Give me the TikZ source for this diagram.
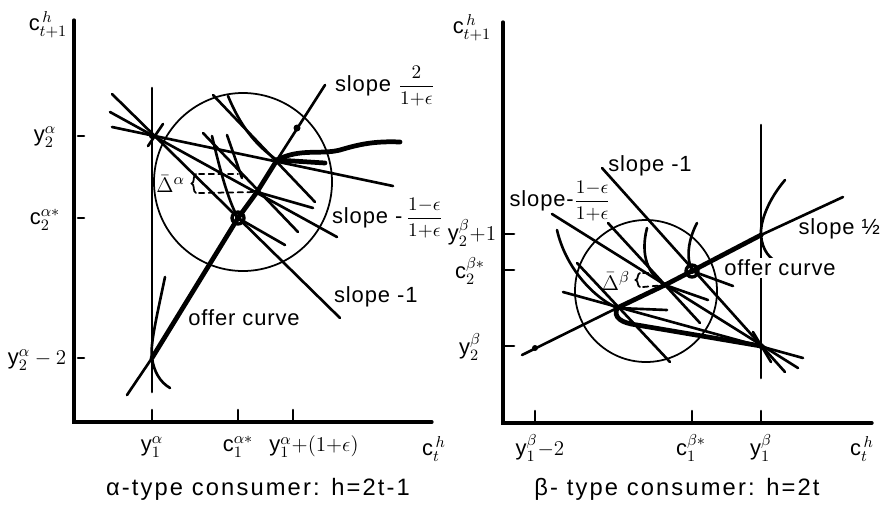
\documentclass[tikz,border=0pt]{standalone}
\usepackage{amsmath}
\usepackage{fontspec}
\setmainfont{Liberation Sans}[LetterSpace=4]
\usetikzlibrary{calc,decorations.pathreplacing}

\newcommand{\vy}{\mathrm{y}}
\newcommand{\vc}{\mathrm{c}}
\newcommand{\pente}[2]{{\fontsize{11}{12}\selectfont$\dfrac{#1}{#2}$}}

\begin{document}
\begin{tikzpicture}[x=0.02cm,y=-0.02cm,line cap=round,
    axe/.style={line width=1.9pt},
    trait/.style={line width=1.5pt},
    fin/.style={line width=1pt},
    offre/.style={line width=2.7pt},
    tiret/.style={line width=1pt,dash pattern=on 3pt off 2.5pt},
    accol/.style={fin,decorate,decoration={brace,amplitude=2.5pt}},
    etiq/.style={font=\fontsize{12.5}{14}\selectfont,inner sep=1pt},
    legende/.style={font=\fontsize{13.5}{16}\selectfont\addfontfeature{LetterSpace=9},inner sep=1pt}]
\useasboundingbox (0,0) rectangle (884,504);

% ---- consommateur alpha ----
\coordinate (Oa) at (74,422);
\coordinate (Ea) at (152,136);
\coordinate (Pa) at (238,218);
\coordinate (Da) at (257,192);
\coordinate (Ia) at (277,160);
\coordinate (Ba) at (152,358);

% Les axes
\draw[axe] (74,20) -- (Oa) -- (432,422);
\foreach \x in {152,238,293} \draw[trait] (\x,422) -- (\x,410);
\foreach \y in {136,218,358} \draw[trait] (78,\y) -- (84,\y);

% Le cercle
\draw[fin] (243,182) circle (89);
\draw[trait] (152,88) -- (152,392);

% Droites de budget
\draw[trait] (112,94) -- (340,318);
\draw[trait] (110,112) -- (337,237);
\draw[trait] (112,127) -- (393,186);
\draw[trait] (148,146) -- (163,124);
\draw[trait] (213,95) -- (315,202);
\draw[trait] (203,133) -- (298,232);
\draw[trait] (227,135) -- (242,178);
\draw[trait] (Pa) -- (285,245);
\draw[trait] (Da) -- (313,208);

% Courbes d'indifference
\draw[trait] (228,96) .. controls (240,125) and (255,145) .. (Ia);
\draw[trait] (212,136) .. controls (220,170) and (228,200) .. (Pa);
\draw[trait] (165,277) .. controls (156,320) and (150,345) .. (Ba)
    .. controls (154,372) and (160,382) .. (170,388);

% Courbe d'offre
\draw[trait] (127,395) -- (Ba);
\draw[offre] (Ba) -- (Pa) -- (Da) -- (Ia);
\draw[trait] (Ia) -- (325,85);
\draw[offre] (Ia) -- (325,163);
\draw[offre] (Ia) .. controls (300,148) and (320,155) .. (340,150)
    .. controls (360,144) and (375,141) .. (400,142);

% Points
\fill (297,128) circle (3.5);
\draw[axe] (Pa) circle (6);
\fill (Pa) circle (3) (Ea) circle (3) (Da) circle (2.5) (Ia) circle (2.5);

% Ecart Delta
\draw[tiret] (199,174) -- (238,174);
\draw[tiret] (199,193) -- (Da);
\draw[accol] (196,193) -- (196,174);
\node[etiq,anchor=east] (dla) at (187,184) {$\bar{\Delta}^{\alpha}$};

% Etiquettes
\node[etiq] (cha) at (48,25) {$\vc^{\,h}_{t+1}$};
\node[etiq] (y2a) at (45,137) {$\vy_2^{\alpha}$};
\node[etiq] (c2a) at (45,220) {$\vc_2^{\alpha *}$};
\node[etiq] (y2am) at (37,360) {$\vy_2^{\alpha}-2$};
\node[etiq] (y1a) at (152,447) {$\vy_1^{\alpha}$};
\node[etiq] (c1a) at (238,447) {$\vc_1^{\alpha *}$};
\node[etiq] (y1ae) at (314,447) {$\vy_1^{\alpha}{+}(1{+}\epsilon)$};
\node[etiq] (cta) at (434,449) {$\vc^{\,h}_{t}$};
\node[etiq,anchor=west] (pa1) at (333,86) {slope \pente{2}{1{+}\epsilon}};
\node[etiq,anchor=west] (pa2) at (330,218) {slope -\,\pente{1{-}\epsilon}{1{+}\epsilon}};
\node[etiq,anchor=west] (pa3) at (332,297) {slope -1};
\node[etiq] (oca) at (244,318) {offer curve};
\node[legende] (lga) at (258,489) {α-type consumer: h=2t-1};

% ---- consommateur beta ----
\coordinate (Ob) at (503,423);
\coordinate (Eb) at (761,346);
\coordinate (Lb) at (617,308);
\coordinate (Db) at (665,285);
\coordinate (Pb) at (692,271);
\coordinate (Qb) at (761,235);

% Les axes
\draw[axe] (503,22) -- (Ob) -- (872,423);
\foreach \x in {535,692,761} \draw[trait] (\x,423) -- (\x,411);
\foreach \y in {234,270,346} \draw[trait] (503,\y) -- (514,\y);

% Le cercle
\draw[fin] (646,291) circle (71);
\draw[trait] (761,125) -- (761,378);

% Droites de budget
\draw[trait] (602,168) -- (785,372);
\draw[trait] (552,214) -- (798,368);
\draw[trait] (563,292) -- (803,358);
\draw[trait] (753,332) -- (771,362);
\draw[trait] (Lb) -- (667,310);
\draw[trait] (577,263) -- (670,362);
\draw[trait] (608,223) -- (700,323);
\draw[trait] (Db) -- (708,300);
\draw[trait] (Pb) -- (733,286);

% Courbes d'indifference
\draw[trait] (557,230) .. controls (565,265) and (590,295) .. (Lb);
\draw[trait] (647,228) .. controls (640,255) and (648,275) .. (Db);
\draw[trait] (697,223) .. controls (688,240) and (686,258) .. (Pb);
\draw[trait] (785,180) .. controls (768,200) and (760,222) .. (Qb)
    .. controls (762,250) and (770,260) .. (780,263);

% Courbe d'offre
\draw[trait] (522,355) -- (Lb);
\draw[offre] (Lb) -- (Db) -- (Pb) -- (Qb);
\draw[trait] (Qb) -- (843,197);
\draw[offre] (Lb) .. controls (613,318) and (622,323) .. (637,325) -- (Eb);

% Points
\fill (535,348) circle (3);
\draw[axe] (Pb) circle (6);
\fill (Pb) circle (3) (Eb) circle (3) (Db) circle (2.5) (Lb) circle (2.5) (Qb) circle (2.5);

% Ecart Delta
\draw[tiret] (643,273) -- (653,273);
\draw[tiret] (643,287) -- (Db);
\draw[accol] (640,287) -- (640,273);
\node[etiq,anchor=east] (dlb) at (632,281) {$\bar{\Delta}^{\beta}$};

% Etiquettes
\node[etiq] (chb) at (472,28) {$\vc^{\,h}_{t+1}$};
\node[etiq] (y2bp) at (472,233) {$\vy_2^{\beta}{+}1$};
\node[etiq] (c2b) at (470,271) {$\vc_2^{\beta *}$};
\node[etiq] (y2b) at (470,347) {$\vy_2^{\beta}$};
\node[etiq] (y1bm) at (540,448) {$\vy_1^{\beta}{-}2$};
\node[etiq] (c1b) at (691,448) {$\vc_1^{\beta *}$};
\node[etiq] (y1b) at (761,448) {$\vy_1^{\beta}$};
\node[etiq] (ctb) at (862,449) {$\vc^{\,h}_{t}$};
\node[etiq] (pb1) at (650,166) {slope -1};
\node[etiq] (pb2) at (560,201) {slope-\pente{1{-}\epsilon}{1{+}\epsilon}};
\node[etiq,anchor=east] (pb3) at (882,229) {slope ½};
\node[etiq,fill=white] (ocb) at (780,268) {offer curve};
\node[legende] (lgb) at (677,489) {β- type consumer: h=2t};
\end{tikzpicture}
\end{document}
